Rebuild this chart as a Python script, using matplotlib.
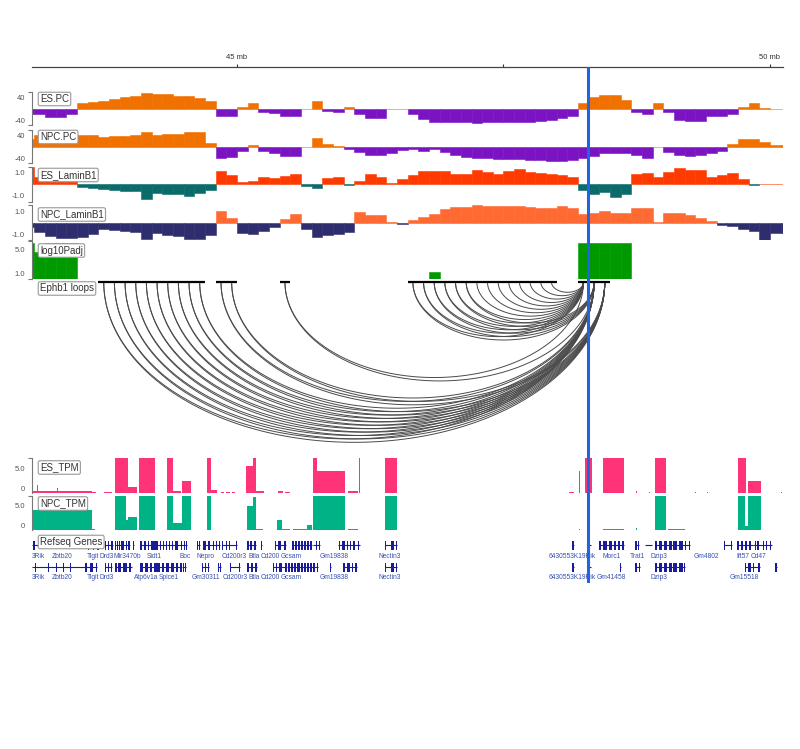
import numpy as np
import matplotlib.pyplot as plt

plt.rcParams["font.family"] = ["Liberation Sans", "DejaVu Sans"]
GENE_FS = 4.8

# ========= figure geometry (pixels) =========
W, H = 800, 749
XMIN, XMAX = 43.077, 50.122      # visible window, mb
BIN0, BIN = 43.0, 0.1            # 100 kb bins
HIGHLIGHT = 48.29                # blue marker line

# ========= binned signal tracks (100 kb bins from 43.0 mb) =========
ES_PC = [-17, -17, -26, -26, -16, 20, 26, 29, 37, 43, 46, 56, 52, 54, 47, 46, 38, 28,
         -23, -23, 9, 23, -8, -14, -25, -25, 1, 29, -6, -8, 7, -17, -31, -31, 1, 1,
         -18, -35, -44, -45, -46, -45, -48, -46, -46, -46, -45, -43, -40, -37, -32, -24,
         21, 41, 49, 49, 33, -10, -15, 21, -10, -36, -40, -40, -23, -23, -18, 9, 21, 3, 1, 1]
NPC_PC = [29, 43, 43, 43, 43, 43, 41, 35, 37, 39, 41, 52, 43, 45, 46, 52, 52, 14,
          -38, -36, -15, 6, -15, -23, -32, -32, 1, 31, 9, 2, -8, -17, -27, -27, -21, -12,
          -7, -14, -8, -17, -29, -35, -38, -38, -43, -43, -43, -46, -46, -50, -50, -46,
          -38, -31, -23, -23, -23, -29, -38, 1, -17, -29, -31, -29, -23, -14, 10, 27, 29, 17, 7, 7]
ES_LAMIN = [1.5, 0.6, 0.4, 0.4, 0.4, -0.23, -0.35, -0.43, -0.5, -0.54, -0.57, -1.29, -0.77,
            -0.86, -0.8, -0.97, -0.77, -0.49, 1.17, 0.8, 0.17, 0.26, 0.6, 0.5, 0.7, 0.86,
            -0.17, -0.32, 0.54, 0.6, -0.04, 0.3, 0.87, 0.65, 0.1, 0.45, 0.77, 1.14, 1.14,
            1.1, 0.91, 0.91, 1.2, 1.05, 0.91, 1.1, 1.34, 1.05, 1.0, 0.91, 0.77, 0.63,
            -0.51, -0.8, -0.66, -1.09, -0.86, 0.86, 0.97, 0.63, 1.06, 1.4, 1.2, 1.2, 0.63,
            0.77, 1.0, 0.43, -0.05, 0.03, 0.03, 0.03]
NPC_LAMIN = [-0.34, -0.77, -1.14, -1.34, -1.34, -1.2, -0.97, -0.54, -0.63, -0.71, -0.83,
             -1.43, -0.91, -1.06, -1.14, -1.43, -1.43, -1.06, 1.0, 0.37, -0.85, -1.0, -0.75,
             -0.34, 0.35, 0.77, -0.54, -1.2, -1.06, -1.0, -0.77, 0.89, 0.66, 0.66, 0.02,
             -0.12, 0.25, 0.5, 0.71, 1.14, 1.34, 1.34, 1.49, 1.43, 1.43, 1.43, 1.43, 1.37,
             1.29, 1.23, 1.43, 1.29, 0.71, 0.86, 1.0, 0.86, 0.8, 1.23, 1.23, 0.02, 0.86,
             0.86, 0.66, 0.37, 0.14, -0.17, -0.29, -0.57, -0.71, -1.49, -0.86, -0.86]

PADJ_POS = [43.0, 43.1, 43.2, 43.3, 43.4, 46.8, 48.2, 48.3, 48.4, 48.5, 48.6]
PADJ_VAL = [6.1, 4.6, 6.1, 6.1, 6.1, 1.1, 6.1, 6.1, 6.1, 6.1, 6.1]

# ========= loops (anchor centres, mb) =========
LOOP_LEFT = [43.75, 43.75, 43.85, 43.85, 43.95, 43.95, 44.05, 44.05, 44.15, 44.15,
             44.25, 44.25, 44.35, 44.35, 44.45, 44.45, 44.55, 44.55, 44.65, 44.65,
             44.85, 44.85, 44.95, 44.95, 45.45, 45.45,
             46.65, 46.65, 46.75, 46.75, 46.85, 46.85, 46.95, 46.95, 47.05, 47.05,
             47.15, 47.15, 47.25, 47.35, 47.45, 47.55, 47.65, 47.75, 47.85, 47.95]
LOOP_RIGHT = [48.35, 48.45, 48.35, 48.45, 48.35, 48.45, 48.35, 48.45, 48.35, 48.45,
              48.35, 48.45, 48.35, 48.45, 48.35, 48.45, 48.35, 48.45, 48.35, 48.45,
              48.35, 48.45, 48.35, 48.45, 48.25, 48.35,
              48.25, 48.35, 48.25, 48.35, 48.25, 48.35, 48.25, 48.35, 48.25, 48.35,
              48.25, 48.35, 48.25, 48.25, 48.25, 48.25, 48.25, 48.25, 48.25, 48.25]

# ========= expression (start, end, TPM) =========
ES_TPM_START = [43.077, 43.124, 43.311, 43.640, 43.752, 43.856, 43.978, 44.081, 44.343, 44.400,
                44.484, 44.719, 44.756, 44.850, 44.900, 44.950, 45.084, 45.150, 45.178, 45.385,
                45.450, 45.713, 45.750, 46.041, 46.144, 46.388, 48.114, 48.208, 48.265, 48.433,
                48.743, 48.865, 48.921, 49.296, 49.409, 49.700, 49.794, 50.103]
ES_TPM_END = [43.640, 43.133, 43.321, 43.677, 43.827, 43.978, 44.062, 44.231, 44.400, 44.475,
              44.568, 44.756, 44.812, 44.880, 44.930, 44.980, 45.150, 45.178, 45.253, 45.432,
              45.497, 45.750, 46.013, 46.135, 46.154, 46.501, 48.161, 48.218, 48.330, 48.630,
              48.752, 48.874, 49.024, 49.306, 49.418, 49.775, 49.916, 50.113]
ES_TPM_VAL = [0.35, 1.5, 0.9, 0.2, 0.2, 9, 1.1, 9, 9, 0.4,
              2.4, 9, 0.5, 0.2, 0.2, 0.2, 5.4, 9, 0.3, 0.3,
              0.2, 9, 4.5, 0.4, 9, 9, 0.2, 4.4, 9, 9,
              0.3, 0.2, 9, 0.1, 0.1, 9, 2.4, 0.1]
NPC_TPM_START = [43.077, 43.640, 43.752, 43.856, 43.959, 43.978, 44.081, 44.343, 44.400, 44.484,
                 44.719, 45.094, 45.150, 45.178, 45.375, 45.422, 45.525, 45.657, 45.713, 46.041,
                 46.388, 48.208, 48.293, 48.433, 48.743, 48.921, 49.043, 49.700, 49.765, 49.794]
NPC_TPM_END = [43.640, 43.668, 43.827, 43.959, 43.978, 44.062, 44.231, 44.400, 44.484, 44.568,
               44.756, 45.150, 45.178, 45.244, 45.422, 45.497, 45.657, 45.704, 46.013, 46.135,
               46.501, 48.218, 48.302, 48.630, 48.752, 49.024, 49.203, 49.765, 49.794, 49.916]
NPC_TPM_VAL = [4.1, 0.2, 0.1, 9, 2.0, 2.7, 9, 9, 1.5, 9,
               9, 4.8, 6.8, 0.3, 2.0, 0.3, 0.15, 1.0, 9, 0.15,
               9, 0.3, 0.1, 0.15, 0.5, 9, 0.15, 9, 0.8, 9]

# ========= RefSeq gene models: (start, end, exons) =========
GENES_ROW1 = [
    (43.077, 43.600, [(43.090, 43.105)]),
    (43.600, 43.715, [(43.602, 43.612), (43.645, 43.655), (43.687, 43.705)]),
    (43.762, 43.837, [(43.762, 43.772), (43.790, 43.799), (43.818, 43.837)]),
    (43.856, 43.996, [(43.856, 43.866), (43.874, 43.884), (43.893, 43.903), (43.912, 43.940),
                      (43.959, 43.968), (43.978, 43.996)]),
    (44.024, 44.034, [(44.024, 44.034)]),
    (44.090, 44.343, [(44.090, 44.109), (44.128, 44.146), (44.165, 44.175), (44.193, 44.259),
                      (44.278, 44.288), (44.306, 44.315), (44.334, 44.343)]),
    (44.343, 44.531, [(44.362, 44.372), (44.390, 44.400), (44.418, 44.446), (44.475, 44.484),
                      (44.503, 44.512), (44.521, 44.531)]),
    (44.625, 44.653, [(44.625, 44.635), (44.643, 44.653)]),
    (44.681, 44.841, [(44.681, 44.709), (44.728, 44.747), (44.775, 44.785), (44.803, 44.812),
                      (44.831, 44.841)]),
    (44.859, 45.000, [(44.859, 44.869), (44.897, 44.906), (44.925, 44.934), (44.991, 45.000)]),
    (45.094, 45.178, [(45.094, 45.113), (45.122, 45.141), (45.159, 45.178)]),
    (45.225, 45.235, [(45.225, 45.235)]),
    (45.356, 45.460, [(45.356, 45.366), (45.385, 45.413), (45.441, 45.460)]),
    (45.516, 45.704, [(45.516, 45.535), (45.544, 45.563), (45.572, 45.591), (45.600, 45.619),
                      (45.629, 45.647), (45.657, 45.675), (45.685, 45.704)]),
    (45.713, 45.779, [(45.741, 45.750), (45.769, 45.779)]),
    (45.947, 46.154, [(45.957, 45.966), (45.985, 46.013), (46.032, 46.041), (46.060, 46.069),
                      (46.088, 46.107), (46.135, 46.145)]),
    (46.388, 46.501, [(46.388, 46.398), (46.445, 46.473), (46.492, 46.501)]),
    (48.140, 48.159, [(48.140, 48.150), (48.155, 48.159)]),
    (48.300, 48.319, [(48.305, 48.315)]),
    (48.394, 48.629, [(48.394, 48.413), (48.432, 48.469), (48.488, 48.516), (48.535, 48.554),
                      (48.573, 48.591), (48.610, 48.629)]),
    (48.732, 48.770, [(48.732, 48.751), (48.765, 48.770)]),
    (48.826, 48.892, [(48.826, 48.832), (48.854, 48.860), (48.882, 48.888)]),
    (48.920, 49.249, [(48.920, 48.939), (48.958, 48.986), (49.005, 49.033), (49.052, 49.080),
                      (49.090, 49.127), (49.146, 49.183), (49.202, 49.211), (49.240, 49.249)]),
    (49.405, 49.413, [(49.405, 49.413)]),
    (49.568, 49.643, [(49.568, 49.574), (49.634, 49.643)]),
    (49.690, 49.840, [(49.690, 49.709), (49.728, 49.746), (49.770, 49.780), (49.803, 49.822)]),
    (49.840, 50.019, [(49.859, 49.868), (49.878, 49.897), (49.934, 49.943), (49.962, 49.971),
                      (50.000, 50.009)]),
]
GENES_ROW2 = [
    (43.077, 43.574, [(43.105, 43.114), (43.227, 43.236), (43.302, 43.311), (43.368, 43.377),
                      (43.433, 43.442)]),
    (43.574, 43.687, [(43.574, 43.593), (43.621, 43.649), (43.677, 43.687)]),
    (43.762, 43.827, [(43.762, 43.772), (43.790, 43.799), (43.818, 43.827)]),
    (43.856, 44.015, [(43.856, 43.874), (43.884, 43.912), (43.931, 43.968), (43.987, 44.006)]),
    (44.090, 44.343, [(44.090, 44.118), (44.137, 44.165), (44.184, 44.203), (44.221, 44.278),
                      (44.296, 44.315), (44.334, 44.343)]),
    (44.343, 44.480, [(44.343, 44.362), (44.381, 44.409), (44.428, 44.446), (44.470, 44.480)]),
    (44.493, 44.523, [(44.493, 44.500), (44.516, 44.523)]),
    (44.672, 44.740, [(44.672, 44.680), (44.700, 44.709), (44.732, 44.740)]),
    (44.822, 44.852, [(44.822, 44.830), (44.845, 44.852)]),
    (44.934, 45.028, [(44.934, 44.943), (45.019, 45.028)]),
    (45.094, 45.188, [(45.094, 45.113), (45.131, 45.150), (45.169, 45.188)]),
    (45.338, 45.469, [(45.338, 45.347), (45.366, 45.375), (45.394, 45.422), (45.450, 45.469)]),
    (45.478, 45.760, [(45.478, 45.497), (45.507, 45.525), (45.535, 45.554), (45.563, 45.591),
                      (45.600, 45.619), (45.629, 45.647), (45.657, 45.675), (45.685, 45.704),
                      (45.713, 45.732), (45.750, 45.760)]),
    (45.868, 45.878, [(45.868, 45.878)]),
    (45.994, 46.126, [(45.994, 46.013), (46.032, 46.060), (46.079, 46.088), (46.107, 46.126)]),
    (46.388, 46.501, [(46.388, 46.398), (46.445, 46.473), (46.492, 46.501)]),
    (48.140, 48.159, [(48.140, 48.150), (48.155, 48.159)]),
    (48.300, 48.319, [(48.305, 48.315)]),
    (48.591, 48.600, [(48.591, 48.600)]),
    (48.732, 48.779, [(48.732, 48.751), (48.770, 48.779)]),
    (48.920, 49.202, [(48.920, 48.939), (48.958, 48.986), (49.005, 49.033), (49.052, 49.080),
                      (49.090, 49.127), (49.146, 49.183), (49.193, 49.202)]),
    (49.765, 49.906, [(49.765, 49.775), (49.793, 49.822), (49.840, 49.850), (49.887, 49.906)]),
    (50.047, 50.066, [(50.047, 50.066)]),
]
LABELS_ROW1 = ["Zbtb20", "Tigit", "Drd3", "Mir3470b", "Sidt1", "Boc", "Nepro", "Cd200r3",
               "Btla", "Cd200", "Gcsam", "Gm19838", "Nectin3", "6430553K19Rik", "Morc1",
               "Trat1", "Dzip3", "Gm4802", "Ift57", "Cd47"]
LABELS_ROW1_X = [43.358, 43.645, 43.778, 43.975, 44.221, 44.512, 44.709, 44.977, 45.160,
                 45.312, 45.507, 45.910, 46.435, 48.141, 48.516, 48.760, 48.958, 49.399,
                 49.742, 49.892]
LABELS_ROW2 = ["Zbtb20", "Tigit", "Drd3", "Atp6v1a", "Spice1", "Gm30311", "Cd200r3", "Btla",
               "Cd200", "Gcsam", "Gm19838", "Nectin3", "6430553K19Rik", "Gm41458", "Dzip3",
               "Gm15518"]
LABELS_ROW2_X = [43.358, 43.645, 43.778, 44.145, 44.362, 44.712, 44.980, 45.165, 45.315,
                 45.510, 45.910, 46.435, 48.141, 48.510, 48.958, 49.756]

# ========= colours =========
PC_POS, PC_NEG = "#F07000", "#7A14C2"
ESL_POS, ESL_NEG = "#FF3A00", "#0B6B6B"
NPCL_POS, NPCL_NEG = "#FF6A33", "#2E2E6E"
PADJ_C = "#009A00"
ES_TPM_C, NPC_TPM_C = "#FF3377", "#00B386"
GENE_C, GENE_TXT = "#1A1A9A", "#3550B0"
BLUE = "#1F64E0"
TICK_C = "#555555"

fig = plt.figure(figsize=(W / 100, H / 100), dpi=100)
fig.patch.set_facecolor("white")


def px_axes(top, bottom, left=32, right=783):
    ax = fig.add_axes([left / W, 1 - bottom / H, (right - left) / W, (bottom - top) / H])
    ax.set_xlim(XMIN, XMAX)
    ax.patch.set_alpha(0)
    return ax


def style_track(ax, ylim, ticks, ticklabels):
    ax.set_ylim(*ylim)
    for s in ("top", "right", "bottom"):
        ax.spines[s].set_visible(False)
    ax.spines["left"].set_color("#777777")
    ax.spines["left"].set_linewidth(0.8)
    ax.set_xticks([])
    ax.set_yticks(ticks, ticklabels)
    ax.set_yticks(list(ylim), minor=True)
    ax.tick_params(axis="y", which="major", length=0, pad=5, labelsize=5.5, labelcolor=TICK_C)
    ax.tick_params(axis="y", which="minor", length=3, width=0.8, color="#777777", direction="out")


def track_label(y, text):
    fig.text(40 / W, 1 - y / H, text, fontsize=7, color="#333333", ha="left", va="center",
             bbox=dict(boxstyle="round,pad=0.18", fc="white", ec="#999999", lw=0.8), zorder=6)


def signal(ax, values, pos_c, neg_c):
    v = np.array(values, dtype=float)
    x = BIN0 + BIN * np.arange(len(v))
    cols = [pos_c if val >= 0 else neg_c for val in v]
    ax.bar(x, v, width=BIN, align="edge", color=cols, edgecolor=cols, linewidth=0.4)


# ---- ruler ----
ax = px_axes(67, 72)
for s in ("bottom", "left", "right"):
    ax.spines[s].set_visible(False)
ax.spines["top"].set_color("#444444")
ax.spines["top"].set_linewidth(0.9)
ax.set_yticks([])
ax.xaxis.tick_top()
ax.set_xticks([45, 47.5, 50], ["45 mb", "", "50 mb"])
ax.tick_params(axis="x", length=2.5, width=0.8, pad=1.5, labelsize=5.5, colors="#333333")

# ---- compartment tracks ----
ax = px_axes(91.7, 125)
signal(ax, ES_PC, PC_POS, PC_NEG)
style_track(ax, (-55, 61), [40, -40], ["40", "-40"])
track_label(99, "ES.PC")

ax = px_axes(129.5, 162.5)
signal(ax, NPC_PC, PC_POS, PC_NEG)
style_track(ax, (-55, 61), [40, -40], ["40", "-40"])
track_label(137, "NPC.PC")

# ---- LaminB1 ----
ax = px_axes(166.7, 201.7)
signal(ax, ES_LAMIN, ESL_POS, ESL_NEG)
style_track(ax, (-1.5, 1.5), [1.0, -1.0], ["1.0", "-1.0"])
track_label(175, "ES_LaminB1")

ax = px_axes(205.2, 240.2)
signal(ax, NPC_LAMIN, NPCL_POS, NPCL_NEG)
style_track(ax, (-1.5, 1.5), [1.0, -1.0], ["1.0", "-1.0"])
track_label(214.5, "NPC_LaminB1")

# ---- log10Padj ----
ax = px_axes(241, 279)
ax.bar(PADJ_POS, PADJ_VAL, width=BIN, align="edge", color=PADJ_C, edgecolor=PADJ_C, linewidth=0.4)
style_track(ax, (0, 6.4), [5.0, 1.0], ["5.0", "1.0"])
track_label(250.5, "log10Padj")

# ---- loops ----
ax = px_axes(280, 450)
ax.set_ylim(-1.576, 0.019)
ax.axis("off")
t = np.linspace(0, np.pi, 120)
for a, b in zip(LOOP_LEFT, LOOP_RIGHT):
    c, r = (a + b) / 2, (b - a) / 2
    ax.plot(c - r * np.cos(t), -0.64 * r * np.sin(t), color="#4a4a4a", lw=0.7)
for p in sorted(set(LOOP_LEFT) | set(LOOP_RIGHT)):
    ax.hlines(0, p - BIN / 2, p + BIN / 2, color="black", lw=1.6)
track_label(288.5, "Ephb1 loops")

# ---- expression ----
for (top, bot, st, en, val, col, lab, ly) in [
        (458.3, 492.7, ES_TPM_START, ES_TPM_END, ES_TPM_VAL, ES_TPM_C, "ES_TPM", 467.5),
        (495.7, 530, NPC_TPM_START, NPC_TPM_END, NPC_TPM_VAL, NPC_TPM_C, "NPC_TPM", 503.5)]:
    ax = px_axes(top, bot)
    st, en = np.array(st), np.array(en)
    ax.bar(st, val, width=en - st, align="edge", color=col, linewidth=0)
    style_track(ax, (0, 7), [5.0, 0], ["5.0", "0"])
    for tl in ax.get_yticklabels():
        if tl.get_text() == "0":
            tl.set_va("bottom")
    track_label(ly, lab)

# ---- RefSeq genes ----
ax = px_axes(533, 583)
ax.set_ylim(50, 0)
ax.axis("off")
for genes, yrow in [(GENES_ROW1, 12), (GENES_ROW2, 34)]:
    for s, e, exons in genes:
        ax.hlines(yrow, s, e, color=GENE_C, lw=0.8)
        ax.broken_barh([(a, b - a) for a, b in exons], (yrow - 4.5, 9), color=GENE_C, lw=0)
for names, xs, ylab in [(LABELS_ROW1, LABELS_ROW1_X, 23.5), (LABELS_ROW2, LABELS_ROW2_X, 44.5)]:
    ax.text(XMIN, ylab, "3Rik", fontsize=GENE_FS, color=GENE_TXT, ha="left", va="center")
    for n, x in zip(names, xs):
        ax.text(x, ylab, n, fontsize=GENE_FS, color=GENE_TXT, ha="center", va="center")
track_label(542, "Refseq Genes")

# ---- highlight line ----
ov = px_axes(67, 583)
ov.set_zorder(10)
ov.set_ylim(0, 1)
ov.axis("off")
ov.axvline(HIGHLIGHT, color=BLUE, lw=2.2)

fig.savefig("out.png", dpi=100, facecolor="white")
